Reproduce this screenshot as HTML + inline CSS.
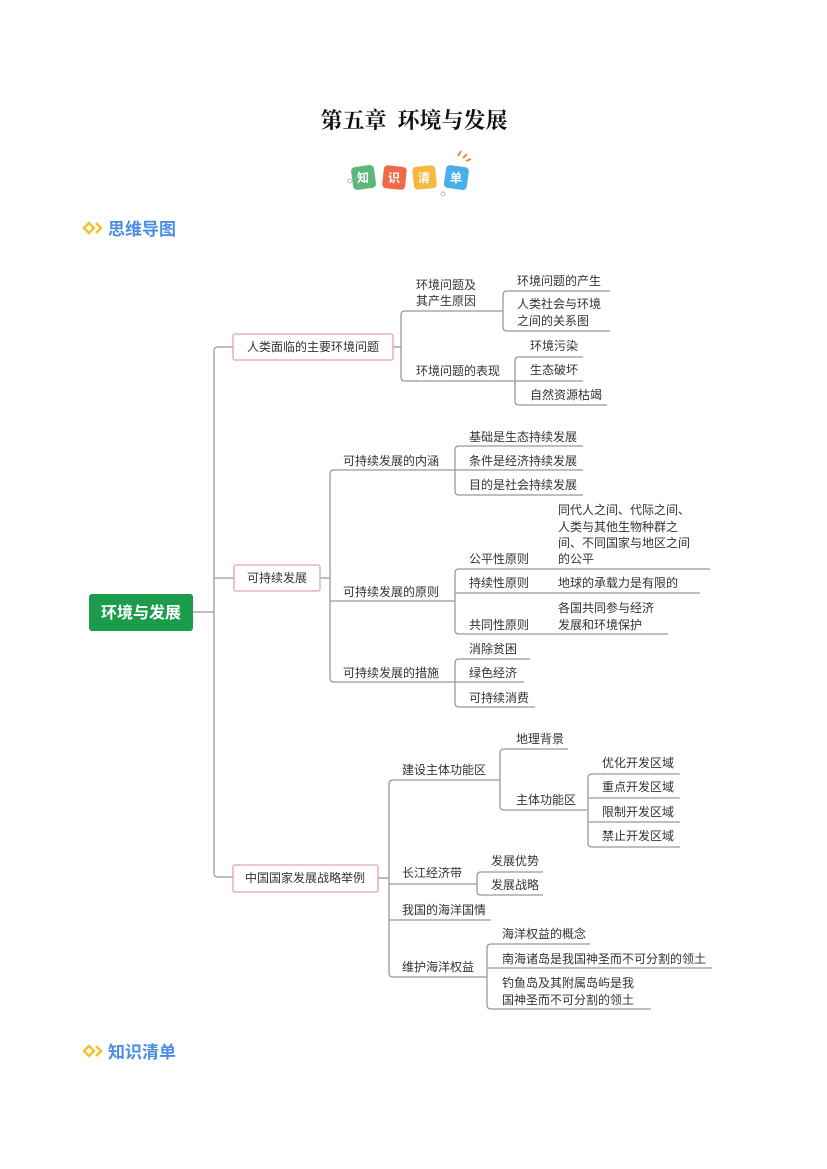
<!DOCTYPE html>
<html><head><meta charset="utf-8"><style>
html,body{margin:0;padding:0;background:#fff}
body{width:827px;height:1169px;position:relative;overflow:hidden;font-family:"Liberation Sans","Noto Sans CJK SC",sans-serif}
svg{position:absolute;left:0;top:0}
</style></head><body>
<svg width="827" height="1169" viewBox="0 0 827 1169" xmlns="http://www.w3.org/2000/svg">
<g font-family="Liberation Serif,Noto Serif CJK SC,serif" font-weight="bold">
<text x="414" y="128" font-size="22" text-anchor="middle" fill="#111">第五章&#160;&#160;环境与发展</text>
</g>
<!-- badge -->
<g font-family="Liberation Sans,Noto Sans CJK SC,sans-serif" font-weight="bold" font-size="12" fill="#fff" text-anchor="middle">
<rect x="352" y="166" width="23" height="23" rx="4" fill="#5cb87a" transform="rotate(-8 363 177)"/>
<text x="363" y="182">知</text>
<rect x="383" y="166" width="23" height="23" rx="4" fill="#f06a4a" transform="rotate(6 394 177)"/>
<text x="394" y="182">识</text>
<rect x="413" y="166" width="23" height="23" rx="4" fill="#f5b942" transform="rotate(-6 424 177)"/>
<text x="424" y="182">清</text>
<rect x="445" y="166" width="23" height="23" rx="4" fill="#4aaee8" transform="rotate(8 456 177)"/>
<text x="456" y="182">单</text>
<path d="M458 156 l3 -5 M463 158 l4 -4 M466 161 l5 -2" stroke="#f08a3a" stroke-width="2"/>
<circle cx="350" cy="181" r="2" fill="none" stroke="#bbb"/>
<circle cx="443" cy="194" r="2" fill="none" stroke="#bbb"/>
</g>
<!-- section headers -->
<g font-family="Liberation Sans,Noto Sans CJK SC,sans-serif" font-weight="bold" font-size="17" fill="#4a8ee0">
<path d="M84 228 l5 -5 l5 5 l-5 5 z" fill="none" stroke="#f2c230" stroke-width="2.5"/>
<path d="M96 223 l5 5 l-5 5" fill="none" stroke="#f2c230" stroke-width="2.5"/>
<text x="108" y="235">思维导图</text>
<path d="M84 1051 l5 -5 l5 5 l-5 5 z" fill="none" stroke="#f2c230" stroke-width="2.5"/>
<path d="M96 1046 l5 5 l-5 5" fill="none" stroke="#f2c230" stroke-width="2.5"/>
<text x="108" y="1058">知识清单</text>
</g>
<!-- lines -->
<g fill="none" stroke="#999" stroke-width="1.3">
<path d="M193 612 H214"/>
<path d="M233 347 H218 Q214 347 214 351 V873 Q214 877 218 877 H233"/>
<path d="M214 578 H234"/>
<path d="M393 347 H401"/>
<path d="M503 311 H405 Q401 311 401 315 V377 Q401 381 405 381 H515"/>
<path d="M610 291 H507 Q503 291 503 295 V327 Q503 331 507 331 H610"/>
<path d="M583 357 H519 Q515 357 515 361 V401 Q515 405 519 405 H607 M515 381 H583"/>
<path d="M320 578 H330"/>
<path d="M455 470 H334 Q330 470 330 474 V678 Q330 682 334 682 H455 M330 601 H455"/>
<path d="M583 446 H459 Q455 446 455 450 V491 Q455 495 459 495 H583 M455 470 H583"/>
<path d="M710 569 H459 Q455 569 455 573 V630 Q455 634 459 634 H668 M455 593 H700"/>
<path d="M530 659 H459 Q455 659 455 663 V703 Q455 707 459 707 H535 M455 682 H524"/>
<path d="M378 878 H389"/>
<path d="M500 780 H393 Q389 780 389 784 V973 Q389 977 393 977 H487 M389 884 H477 M389 920 H491"/>
<path d="M568 749 H504 Q500 749 500 753 V806 Q500 810 504 810 H587"/>
<path d="M680 774 H592 Q588 774 588 778 V843 Q588 847 592 847 H680 M588 798 H680 M588 822 H680"/>
<path d="M543 872 H481 Q477 872 477 876 V891 Q477 895 481 895 H543"/>
<path d="M590 944 H491 Q487 944 487 948 V1005 Q487 1009 491 1009 H651 M487 968 H712"/>
</g>
<!-- boxes -->
<rect x="89" y="594" width="104" height="37" rx="3" fill="#1a9c4a"/>
<text x="141" y="618" font-size="16" font-weight="bold" fill="#fff" text-anchor="middle" font-family="Liberation Sans,Noto Sans CJK SC,sans-serif">环境与发展</text>
<g fill="#fff" stroke="#e8a0b0" stroke-width="1.3">
<rect x="233" y="334" width="160" height="26" rx="2"/>
<rect x="234" y="565" width="86" height="26" rx="2"/>
<rect x="233" y="865" width="145" height="27" rx="2"/>
</g>
<g font-family="Liberation Sans,Noto Sans CJK SC,sans-serif" font-size="12" fill="#333">
<text x="313" y="351" text-anchor="middle">人类面临的主要环境问题</text>
<text x="277" y="582" text-anchor="middle">可持续发展</text>
<text x="305" y="882" text-anchor="middle">中国国家发展战略举例</text>

<text x="416" y="289">环境问题及</text>
<text x="416" y="305">其产生原因</text>
<text x="416" y="375">环境问题的表现</text>
<text x="517" y="285">环境问题的产生</text>
<text x="517" y="308">人类社会与环境</text>
<text x="517" y="325">之间的关系图</text>
<text x="530" y="350">环境污染</text>
<text x="530" y="374">生态破坏</text>
<text x="530" y="399">自然资源枯竭</text>

<text x="343" y="465">可持续发展的内涵</text>
<text x="343" y="596">可持续发展的原则</text>
<text x="343" y="677">可持续发展的措施</text>
<text x="469" y="441">基础是生态持续发展</text>
<text x="469" y="465">条件是经济持续发展</text>
<text x="469" y="489">目的是社会持续发展</text>
<text x="469" y="563">公平性原则</text>
<text x="558" y="514">同代人之间、代际之间、</text>
<text x="558" y="531">人类与其他生物种群之</text>
<text x="558" y="547">间、不同国家与地区之间</text>
<text x="558" y="563">的公平</text>
<text x="469" y="587">持续性原则</text>
<text x="558" y="587">地球的承载力是有限的</text>
<text x="469" y="629">共同性原则</text>
<text x="558" y="612">各国共同参与经济</text>
<text x="558" y="629">发展和环境保护</text>
<text x="469" y="653">消除贫困</text>
<text x="469" y="677">绿色经济</text>
<text x="469" y="702">可持续消费</text>

<text x="402" y="774">建设主体功能区</text>
<text x="402" y="877">长江经济带</text>
<text x="402" y="914">我国的海洋国情</text>
<text x="402" y="971">维护海洋权益</text>
<text x="516" y="743">地理背景</text>
<text x="516" y="804">主体功能区</text>
<text x="602" y="767">优化开发区域</text>
<text x="602" y="791">重点开发区域</text>
<text x="602" y="816">限制开发区域</text>
<text x="602" y="840">禁止开发区域</text>
<text x="491" y="865">发展优势</text>
<text x="491" y="889">发展战略</text>
<text x="502" y="938">海洋权益的概念</text>
<text x="502" y="963">南海诸岛是我国神圣而不可分割的领土</text>
<text x="502" y="987">钓鱼岛及其附属岛屿是我</text>
<text x="502" y="1004">国神圣而不可分割的领土</text>
</g>
</svg>
</body></html>
